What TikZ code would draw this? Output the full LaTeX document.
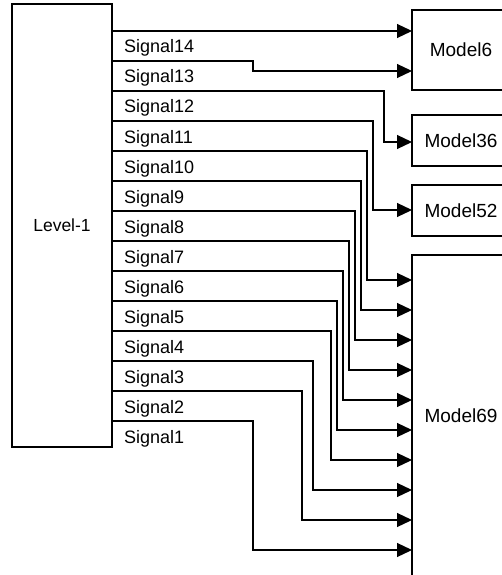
\documentclass[tikz,border=0pt]{standalone}
\usepackage{fontspec}
\setmainfont{Liberation Sans}
\usetikzlibrary{arrows.meta}
\begin{document}
\begin{tikzpicture}[x=1pt,y=-1pt,
  blk/.style={draw, line width=1.4pt, inner sep=0pt, font=\fontsize{19}{22}\selectfont},
  wire/.style={line width=1.2pt},
  sig/.style={wire, -{Triangle[length=15pt,width=14pt]}},
  lbl/.style={anchor=base west, inner sep=0pt, font=\fontsize{18}{21}\selectfont}]
\useasboundingbox (0,0) rectangle (502,575);

% blocks
\node[blk, minimum width=100pt, minimum height=443pt, font=\fontsize{17.5}{21}\selectfont] (L) at (62,225.5) {Level-1};
\node[blk, minimum width=98pt, minimum height=80pt]  (M6)  at (461,50)    {Model6};
\node[blk, minimum width=98pt, minimum height=51pt]  (M36) at (461,140.5) {Model36};
\node[blk, minimum width=98pt, minimum height=51pt]  (M52) at (461,210.5) {Model52};
\node[blk, minimum width=98pt, minimum height=322pt] (M69) at (461,416)   {Model69};

% output ports of Level-1 and their labels
\foreach \k in {1,...,14}{
  \coordinate (o\k) at (112,{31+(14-\k)*30});
  \node[lbl] (t\k) at (124,{53+(14-\k)*30}) {Signal\k};
}

% input ports
\coordinate (m6a) at (412,31);
\coordinate (m6b) at (412,71);
\coordinate (m36) at (412,142);
\coordinate (m52) at (412,210);
\foreach \k in {1,...,10}{
  \coordinate (p\k) at (412,{280+(10-\k)*30});
}

% connections
\draw[sig] (o14) -- (m6a);
\draw[sig] (o13) -- ++(141,0) |- (m6b);
\draw[sig] (o12) -- ++(272,0) |- (m36);
\draw[sig] (o11) -- ++(261,0) |- (m52);
\draw[sig] (o10) -- ++(255,0) |- (p10);
\draw[sig] (o9)  -- ++(249,0) |- (p9);
\draw[sig] (o8)  -- ++(243,0) |- (p8);
\draw[sig] (o7)  -- ++(237,0) |- (p7);
\draw[sig] (o6)  -- ++(231,0) |- (p6);
\draw[sig] (o5)  -- ++(225,0) |- (p5);
\draw[sig] (o4)  -- ++(219,0) |- (p4);
\draw[sig] (o3)  -- ++(201,0) |- (p3);
\draw[sig] (o2)  -- ++(190,0) |- (p2);
\draw[sig] (o1)  -- ++(141,0) |- (p1);
\end{tikzpicture}
\end{document}
